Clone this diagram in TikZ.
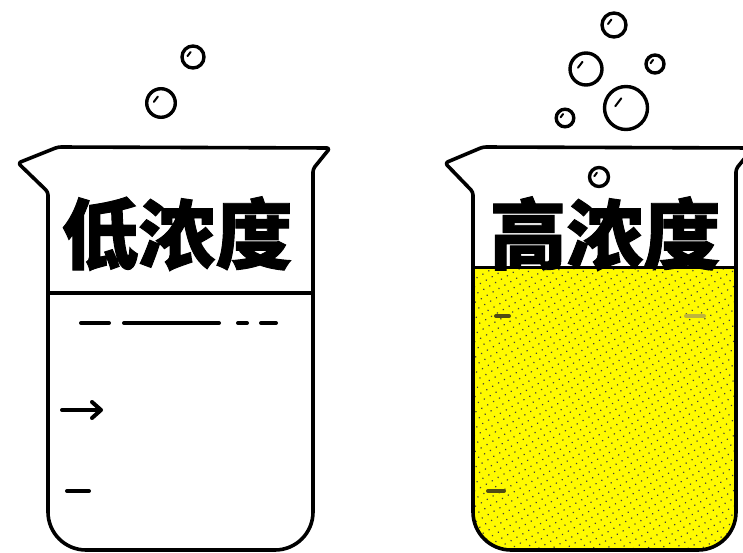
\documentclass[tikz,border=0pt]{standalone}
\usepackage{fontspec}
\newfontfamily\cjk{Noto Sans CJK SC}[BoldFeatures={FakeBold=1.2}]
\usetikzlibrary{patterns.meta}
\definecolor{liquid}{RGB}{255,250,0}
\definecolor{markdark}{RGB}{80,75,20}
\definecolor{markfaint}{RGB}{190,180,60}
\begin{document}
\begin{tikzpicture}[x=1pt,y=-1pt,
  outline/.style={line width=3.6pt, line join=round, line cap=round},
  tick/.style={line width=4pt, line cap=round},
  label/.style={font=\cjk\bfseries\fontsize{77}{77}\selectfont, inner sep=0pt, anchor=base},
  pics/bubble/.style={code={
    \draw[line width=3.4pt] (0,0) circle[radius=#1];
    \draw[line width=2pt, line cap=round] (-0.5*#1,-0.08*#1) -- (-0.22*#1,-0.45*#1);}}
]
\fill[white] (0,0) rectangle (743,553);
\useasboundingbox (0,0) rectangle (743,553);

% ---- left beaker: low concentration ----
\draw[outline] (18,163) [rounded corners=3pt] -- (58,147) -- (330,148) -- (313,169)
  -- (313,300) -- (313,400) [rounded corners=38pt] -- (313,550) -- (48,550) -- (48,400)
  -- (48,300) [rounded corners=3pt] -- (48,192) -- cycle;
\draw[outline] (48,293) -- (313,293);
% graduation marks
\draw[tick] (81,323) -- (109,323);
\draw[tick] (124,323) -- (219,323);
\draw[tick] (238,323) -- (247,323);
\draw[tick] (261,323) -- (276,323);
\draw[tick] (62,410) -- (100,410);
\draw[tick, line join=round] (92,402) -- (101,410) -- (92,418);
\draw[tick] (67,491) -- (89,491);
\node[label] (lo) at (177,263) {低浓度};

\pic at (193,57) {bubble=11};
\pic at (161,103) {bubble=14.3};

% ---- right beaker: high concentration ----
\begin{scope}
  \clip[rounded corners=38pt] (473,150) -- (736,150) -- (736,550) -- (473,550) -- cycle;
  \fill[liquid] (470,267) rectangle (740,555);
  \fill[pattern={Dots[distance=6.8pt, radius=0.85pt, angle=30]}, pattern color=black!75]
    (470,267) rectangle (740,555);
\end{scope}
\draw[outline] (445,163) [rounded corners=3pt] -- (483,147) -- (753,148) -- (736,169)
  -- (736,300) -- (736,400) [rounded corners=38pt] -- (736,550) -- (473,550) -- (473,400)
  -- (473,300) [rounded corners=3pt] -- (473,192) -- cycle;
\draw[line width=3pt] (473,267) -- (736,267);
\draw[tick, markdark] (496,316) -- (509,316);
\draw[tick, markfaint] (686,316) -- (704,316);
\draw[tick, markdark] (488,491) -- (504,491);
\node[label] (hi) at (605,263) {高浓度};

\pic at (599,177) {bubble=9.5};
\pic at (614,25) {bubble=12};
\pic at (586,69) {bubble=16};
\pic at (655,64) {bubble=9};
\pic at (626,108) {bubble=21.5};
\pic at (565,118) {bubble=8.8};
\end{tikzpicture}
\end{document}
